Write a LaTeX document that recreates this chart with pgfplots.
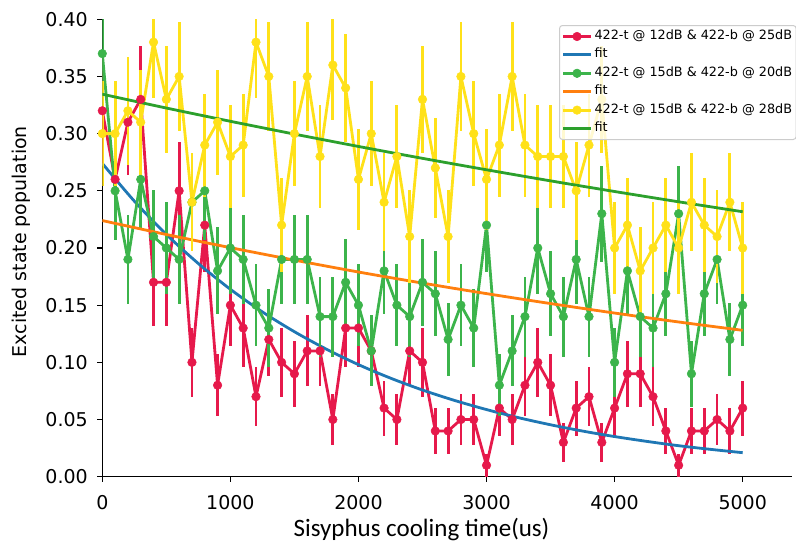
\documentclass[border=0pt]{standalone}
\usepackage{fontspec}
\setmainfont{DejaVu Sans}
\newfontfamily\carlito{Carlito}
\usepackage{pgfplots}
\pgfplotsset{compat=1.18}
\usepackage{pgfplotstable}
\definecolor{cred}{HTML}{E6194B}
\definecolor{cgreen}{HTML}{3CB44B}
\definecolor{cyellow}{HTML}{FFE119}
\definecolor{fblue}{HTML}{1F77B4}
\definecolor{forange}{HTML}{FF7F0E}
\definecolor{fgreen}{HTML}{2CA02C}

\pgfplotstableread{
x R Re G Ge Y Ye
0 0.32 0.047 0.37 0.048 0.30 0.046
100 0.26 0.044 0.25 0.043 0.30 0.046
200 0.31 0.046 0.19 0.039 0.32 0.047
300 0.33 0.047 0.26 0.044 0.31 0.046
400 0.17 0.038 0.21 0.041 0.38 0.049
500 0.17 0.038 0.20 0.040 0.33 0.047
600 0.25 0.043 0.19 0.039 0.35 0.048
700 0.10 0.030 0.24 0.043 0.24 0.043
800 0.22 0.041 0.25 0.043 0.29 0.045
900 0.08 0.027 0.18 0.038 0.31 0.046
1000 0.15 0.036 0.20 0.040 0.28 0.045
1100 0.13 0.034 0.19 0.039 0.29 0.045
1200 0.07 0.026 0.15 0.036 0.38 0.049
1300 0.12 0.032 0.13 0.034 0.35 0.048
1400 0.10 0.030 0.19 0.039 0.22 0.041
1500 0.09 0.029 0.19 0.039 0.30 0.046
1600 0.11 0.031 0.19 0.039 0.35 0.048
1700 0.11 0.031 0.14 0.035 0.28 0.045
1800 0.05 0.022 0.14 0.035 0.36 0.048
1900 0.13 0.034 0.17 0.038 0.34 0.047
2000 0.13 0.034 0.15 0.036 0.26 0.044
2100 0.11 0.031 0.11 0.031 0.30 0.046
2200 0.06 0.024 0.18 0.038 0.24 0.043
2300 0.05 0.022 0.15 0.036 0.28 0.045
2400 0.11 0.031 0.14 0.035 0.21 0.041
2500 0.10 0.030 0.17 0.038 0.33 0.047
2600 0.04 0.020 0.16 0.037 0.27 0.044
2700 0.04 0.020 0.12 0.032 0.21 0.041
2800 0.05 0.022 0.15 0.036 0.35 0.048
2900 0.05 0.022 0.13 0.034 0.30 0.046
3000 0.01 0.010 0.22 0.041 0.26 0.044
3100 0.06 0.024 0.08 0.027 0.29 0.045
3200 0.05 0.022 0.11 0.031 0.35 0.048
3300 0.08 0.027 0.14 0.035 0.29 0.045
3400 0.10 0.030 0.20 0.040 0.28 0.045
3500 0.08 0.027 0.16 0.037 0.28 0.045
3600 0.03 0.017 0.14 0.035 0.28 0.045
3700 0.06 0.024 0.19 0.039 0.25 0.043
3800 0.07 0.026 0.14 0.035 0.29 0.045
3900 0.03 0.017 0.23 0.042 0.33 0.047
4000 0.06 0.024 0.10 0.030 0.20 0.040
4100 0.09 0.029 0.18 0.038 0.22 0.041
4200 0.09 0.029 0.14 0.035 0.18 0.038
4300 0.07 0.026 0.13 0.034 0.20 0.040
4400 0.04 0.020 0.16 0.037 0.22 0.041
4500 0.01 0.010 0.23 0.042 0.20 0.040
4600 0.04 0.020 0.09 0.029 0.24 0.043
4700 0.04 0.020 0.16 0.037 0.22 0.041
4800 0.05 0.022 0.19 0.039 0.21 0.041
4900 0.04 0.020 0.12 0.032 0.24 0.043
5000 0.06 0.024 0.15 0.036 0.20 0.040
}\data

\pgfplotstableread{
x y
0 0.2740
250 0.2410
500 0.2119
750 0.1864
1000 0.1639
1250 0.1441
1500 0.1268
1750 0.1115
2000 0.0980
2250 0.0862
2500 0.0758
2750 0.0667
3000 0.0587
3250 0.0516
3500 0.0454
3750 0.0399
4000 0.0351
4250 0.0309
4500 0.0271
4750 0.0239
5000 0.0210
}\fitR

\pgfplotstableread{
x y
0 0.2240
500 0.2118
1000 0.2003
1500 0.1894
2000 0.1790
2500 0.1693
3000 0.1601
3500 0.1514
4000 0.1431
4500 0.1353
5000 0.1280
}\fitG

\pgfplotstableread{
x y
0 0.3345
500 0.3224
1000 0.3108
1500 0.2996
2000 0.2888
2500 0.2784
3000 0.2684
3500 0.2587
4000 0.2494
4500 0.2404
5000 0.2317
}\fitY

\begin{document}
\begin{tikzpicture}
\useasboundingbox (-102.3pt,-66.3pt) rectangle (693.7pt,476.7pt);
\begin{axis}[
  at={(0pt,0pt)}, anchor=south west,
  scale only axis, width=689.7pt, height=457.4pt,
  xmin=0, xmax=5385, ymin=0, ymax=0.40,
  axis x line*=bottom, axis y line*=left,
  axis line style={line width=1.1pt, -},
  every tick/.style={black, line width=1.1pt},
  major tick length=5pt, tick align=outside,
  xtick={0,1000,2000,3000,4000,5000},
  ytick={0,0.05,0.1,0.15,0.2,0.25,0.3,0.35,0.4},
  tick label style={font=\fontsize{19}{23}\selectfont},
  /pgf/number format/assume math mode=true,
  scaled ticks=false,
  xticklabel style={/pgf/number format/1000 sep={}, yshift=-10pt},
  yticklabel style={/pgf/number format/.cd, fixed, fixed zerofill, precision=2, /tikz/xshift=-6pt},
  xlabel={\carlito Sisyphus cooling time(us)},
  xlabel style={at={(axis description cs:0.4628,-0.1301)}, anchor=base, font=\fontsize{25}{30}\selectfont},
  ylabel={Excited state population},
  ylabel style={at={(axis description cs:-0.1106,0.514)}, anchor=base, font=\fontsize{19}{23}\selectfont},
  legend cell align=left,
  legend style={at={(axis description cs:0.6622,0.9875)}, anchor=north west,
    draw=black!20, line width=1pt, rounded corners=3pt, fill=white, fill opacity=0.8, text opacity=1,
    font=\fontsize{12.8}{15.4}\selectfont, inner xsep=2pt, inner ysep=1.8pt,
    nodes={inner sep=2pt, text height=10.2pt, text depth=4.2pt}},
  legend image code/.code={%
    \draw[#1, line width=3pt, draw opacity=1] (0pt,0pt) -- (28pt,0pt);
    \path[#1, draw=none, fill=none, fill opacity=1] plot coordinates {(14pt,0pt)};},
]
\addplot[cred, line width=2.8pt, mark=*, mark size=4.3pt, mark options={solid, fill=cred, draw=cred, line width=0.5pt, fill opacity=1},
  error bars/.cd, y dir=both, y explicit, error mark=none, error bar style={line width=2.8pt, cred}]
  table[x=x, y=R, y error=Re]{\data};
\addlegendentry{422-t @ 12dB \& 422-b @ 25dB}
\addplot[fblue, line width=2.8pt, smooth, mark=none] table[x=x, y=y]{\fitR};
\addlegendentry{fit}
\addplot[cgreen, line width=2.8pt, mark=*, mark size=4.3pt, mark options={solid, fill=cgreen, draw=cgreen, line width=0.5pt, fill opacity=1},
  error bars/.cd, y dir=both, y explicit, error mark=none, error bar style={line width=2.8pt, cgreen}]
  table[x=x, y=G, y error=Ge]{\data};
\addlegendentry{422-t @ 15dB \& 422-b @ 20dB}
\addplot[forange, line width=2.8pt, smooth, mark=none] table[x=x, y=y]{\fitG};
\addlegendentry{fit}
\addplot[cyellow, line width=2.8pt, mark=*, mark size=4.3pt, mark options={solid, fill=cyellow, draw=cyellow, line width=0.5pt, fill opacity=1},
  error bars/.cd, y dir=both, y explicit, error mark=none, error bar style={line width=2.8pt, cyellow}]
  table[x=x, y=Y, y error=Ye]{\data};
\addlegendentry{422-t @ 15dB \& 422-b @ 28dB}
\addplot[fgreen, line width=2.8pt, smooth, mark=none] table[x=x, y=y]{\fitY};
\addlegendentry{fit}
\end{axis}
\end{tikzpicture}
\end{document}
